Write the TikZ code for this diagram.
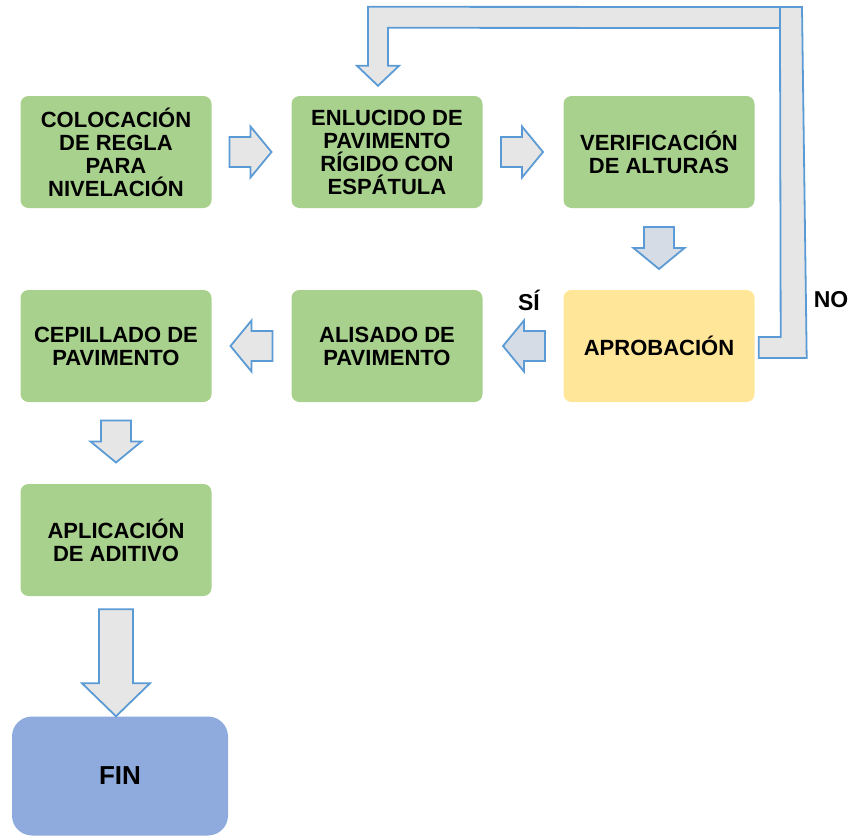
\documentclass[tikz,border=0pt]{standalone}
\usepackage{fontspec}
\setmainfont{Liberation Sans}
\usetikzlibrary{calc}
\definecolor{boxgreen}{HTML}{A9D18E}
\definecolor{boxyellow}{HTML}{FFE699}
\definecolor{boxblue}{HTML}{8FAADC}
\definecolor{arrowgray}{HTML}{E7E6E6}
\definecolor{arrowblue}{HTML}{D6DCE5}
\definecolor{arrowedge}{HTML}{5B9BD5}
\tikzset{
  stepbox/.style={draw=none, fill=boxgreen, rounded corners=8pt,
    minimum width=191pt, minimum height=112pt, inner sep=0pt,
    align=center, font=\bfseries\fontsize{22}{23}\selectfont},
  decision/.style={stepbox, fill=boxyellow},
  endbox/.style={stepbox, fill=boxblue, rounded corners=20pt,
    minimum width=216pt, minimum height=119pt,
    font=\bfseries\fontsize{26}{28}\selectfont},
  answer/.style={font=\bfseries\fontsize{23}{24}\selectfont, inner sep=0pt},
  arrowline/.style={draw=arrowedge, line width=1.8pt, line join=miter},
  pics/blockarrow/.style={code={
    \draw[arrowline, fill=#1] (-21,-15) -- (0,-15) -- (0,-25.5) -- (21,0)
      -- (0,25.5) -- (0,15) -- (-21,15) -- cycle;
  }}
}
\begin{document}
\begin{tikzpicture}[x=1pt, y=-1pt]
  \useasboundingbox (0,0) rectangle (855,836);

  % process steps
  \node[stepbox] (b1) at (116,152) {COLOCACIÓN\\DE REGLA\\PARA\\NIVELACIÓN};
  \node[stepbox] (b2) at (387,152) {ENLUCIDO DE\\PAVIMENTO\\RÍGIDO CON\\ESPÁTULA};
  \node[stepbox] (b3) at (659,152) {VERIFICACIÓN\\DE ALTURAS};
  \node[decision] (b4) at (659,346) {APROBACIÓN};
  \node[stepbox] (b5) at (387,346) {ALISADO DE\\PAVIMENTO};
  \node[stepbox] (b6) at (116,346) {CEPILLADO DE\\PAVIMENTO};
  \node[stepbox] (b7) at (116,540) {APLICACIÓN\\DE ADITIVO};
  \node[endbox] (fin) at (120,776) {FIN};

  % answers of the check
  \node[answer] (si) at (529,300) {SÍ};
  \node[answer] (no) at (831,300) {NO};

  % short block arrows between steps
  \pic at ($(b1.east)!0.5!(b2.west)+(-1,0)$) {blockarrow=arrowgray};
  \pic at ($(b2.east)!0.5!(b3.west)+(-1,0)$) {blockarrow=arrowgray};
  \pic[rotate=-90] at ($(b3.south)!0.5!(b4.north)+(0,-1)$) {blockarrow=arrowblue};
  \pic[rotate=180] at ($(b4.west)!0.5!(b5.east)+(1,0)$) {blockarrow=arrowblue};
  \pic[rotate=180] at ($(b5.west)!0.5!(b6.east)+(0,0)$) {blockarrow=arrowgray};
  \pic[rotate=-90] at ($(b6.south)!0.5!(b7.north)+(0,-1.5)$) {blockarrow=arrowgray};

  % long block arrow into the end
  \coordinate (bigtip) at (b7.south |- fin.north);
  \draw[arrowline, fill=arrowgray]
    ($(b7.south)+(-17,13)$) -- ($(b7.south)+(17,13)$) -- ($(bigtip)+(17,-33)$)
    -- ($(bigtip)+(34,-33)$) -- (bigtip) -- ($(bigtip)+(-34,-33)$)
    -- ($(bigtip)+(-17,-33)$) -- cycle;

  % loop back when the check fails
  \coordinate (nostart) at ($(b4.east)+(4,0)$);
  \coordinate (notip) at ($(b2.north)+(-9,-10)$);
  \draw[arrowline, fill=arrowgray]
    ($(nostart)+(0,-9)$) -- ($(nostart)+(22,-9)$) -- (780,28)
    -- ($(notip)+(10,-58)$) -- ($(notip)+(10,-20)$) -- ($(notip)+(21,-20)$)
    -- (notip) -- ($(notip)+(-21,-20)$) -- ($(notip)+(-10,-20)$)
    -- ($(notip)+(-10,-79)$) -- (802,7) -- ($(nostart)+(48,12)$)
    -- ($(nostart)+(0,12)$) -- cycle;
  \draw[arrowline] (780,7) -- (780,28);
\end{tikzpicture}
\end{document}
